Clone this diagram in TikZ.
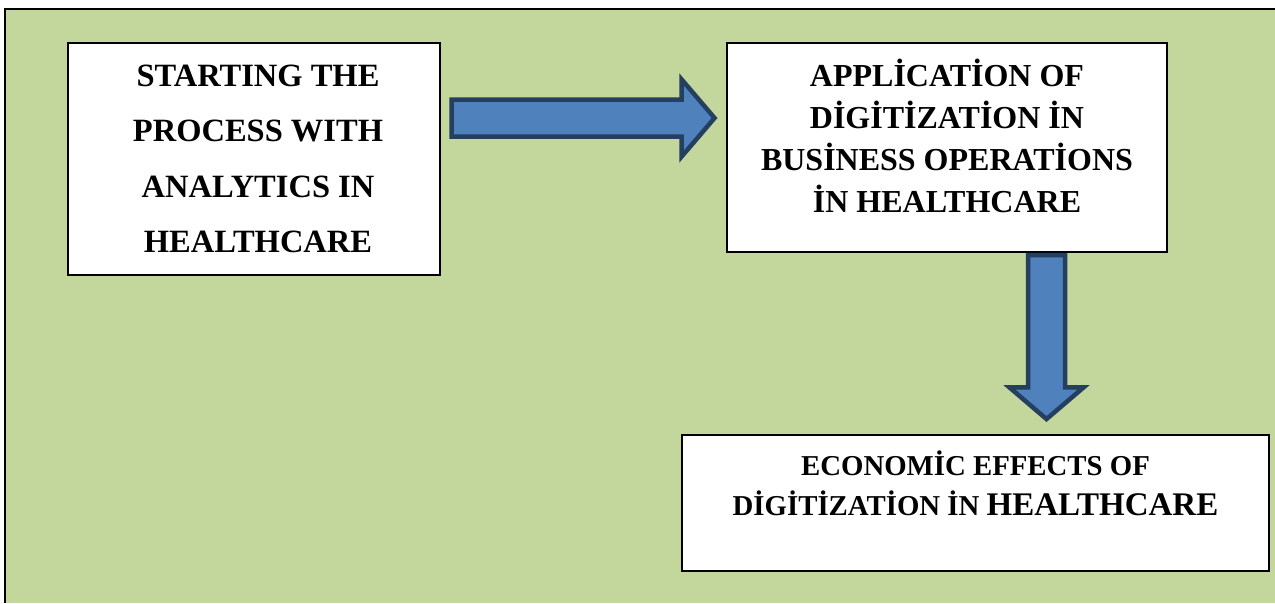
\documentclass[tikz,border=0pt]{standalone}
\usepackage{fontspec}
\setmainfont{Liberation Serif}
\usepackage{tikz}
\usetikzlibrary{shapes.arrows,calc}
\definecolor{bggreen}{HTML}{C3D69B}
\definecolor{arrowblue}{HTML}{4F81BD}
\definecolor{arrowedge}{HTML}{243F60}

\begin{document}
\begin{tikzpicture}[x=1pt,y=-1pt,
  stepbox/.style={draw=black,line width=1.6pt,fill=white,inner sep=0pt},
  steptext/.style={align=center,font=\bfseries,inner sep=0pt},
  blockarrow/.style={single arrow,draw=arrowedge,fill=arrowblue,line width=4.5pt,
    inner xsep=0pt,inner ysep=16.25pt,minimum width=0pt,single arrow tip angle=99,
    anchor=tail}]
\useasboundingbox (0,0) rectangle (1275,603);
\fill[bggreen] (5,9) rectangle (1275,603);
\draw[line width=2.4pt] (5,603)--(5,9)--(1275,9);
% the three boxes
\node[stepbox,minimum width=372,minimum height=232] (analytics) at (254,159) {};
\node[stepbox,minimum width=440,minimum height=209] (operations) at (947,147.5) {};
\node[stepbox,minimum width=587,minimum height=136] (effects) at (975.5,503) {};
\node[steptext,font=\bfseries\fontsize{32.5}{55.5}\selectfont] (analyticstext) at ([xshift=4]analytics.center)
  {STARTING THE\\PROCESS WITH\\ANALYTICS IN\\HEALTHCARE};
\node[steptext,font=\bfseries\fontsize{32}{42}\selectfont] (operationstext) at ([yshift=12]operations.center)
  {APPLİCATİON OF\\DİGİTİZATİON İN\\BUSİNESS OPERATİONS\\İN HEALTHCARE};
\node[steptext,font=\bfseries\fontsize{28.8}{40}\selectfont] (effectstext) at ([yshift=19.5]effects.center)
  {ECONOMİC EFFECTS OF\\DİGİTİZATİON İN {\fontsize{33}{40}\selectfont HEALTHCARE}};
% block arrows
\node[blockarrow,minimum height=263,single arrow head extend=20pt] (firstarrow)
  at ($(analytics.east)+(8.5,-41)$) {};
\node[blockarrow,rotate=-90,minimum height=164,single arrow head extend=18.5pt] (secondarrow)
  at ($(operations.south)+(99.5,0)$) {};
\end{tikzpicture}
\end{document}
